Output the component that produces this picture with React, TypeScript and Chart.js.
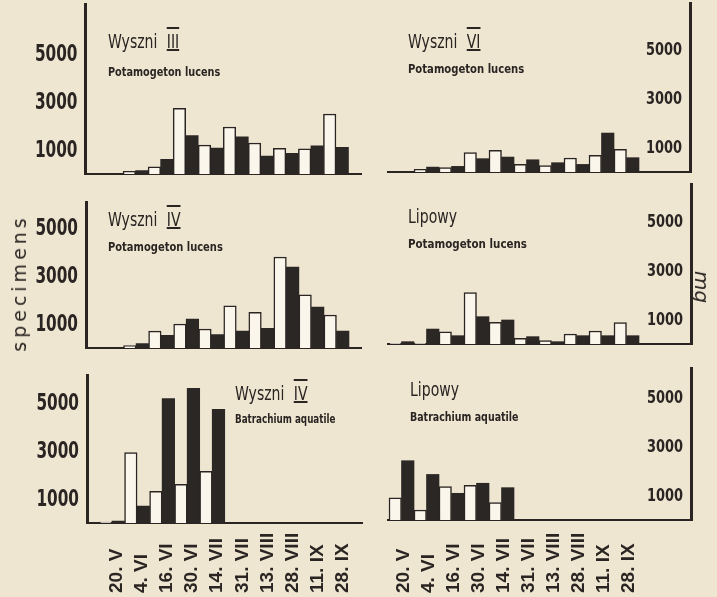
import React, { useEffect, useRef } from "react";
import { Chart, registerables } from "chart.js";

Chart.register(...registerables);

const W = 717;
const H = 597;

// ---------- data ----------
const dates = ["20. V", "4. VI", "16. VI", "30. VI", "14. VII", "31. VII", "13. VIII", "28. VIII", "11. IX", "28. IX"];
const yTicks = [1000, 3000, 5000];

// Wyszni III – Potamogeton lucens
const wyszni3White = [0, 110, 300, 2740, 1200, 1960, 1290, 1070, 1050, 2500];
const wyszni3Black = [0, 140, 610, 1600, 1080, 1550, 750, 860, 1170, 1110];

// Wyszni VI – Potamogeton lucens
const wyszni6White = [0, 110, 180, 790, 885, 310, 260, 570, 680, 925];
const wyszni6Black = [0, 200, 230, 545, 610, 500, 380, 310, 1590, 585];

// Wyszni IV – Potamogeton lucens
const wyszni4PotWhite = [0, 100, 700, 1000, 790, 1760, 1490, 3790, 2220, 1375];
const wyszni4PotBlack = [0, 180, 530, 1210, 555, 700, 820, 3375, 1710, 700];

// Lipowy – Potamogeton lucens
const lipowyPotWhite = [30, 30, 500, 2100, 885, 230, 135, 410, 530, 870];
const lipowyPotBlack = [95, 610, 340, 1115, 980, 300, 95, 340, 340, 340];

// Wyszni IV – Batrachium aquatile
const wyszni4BatWhite = [40, 2930, 1320, 1610, 2150, 0, 0, 0, 0, 0];
const wyszni4BatBlack = [80, 700, 5180, 5610, 4740, 0, 0, 0, 0, 0];

// Lipowy – Batrachium aquatile
const lipowyBatWhite = [910, 410, 1360, 1415, 710, 0, 0, 0, 0, 0];
const lipowyBatBlack = [2420, 1860, 1090, 1500, 1320, 0, 0, 0, 0, 0];

// ---------- styles ----------
const PAPER = "#EFE6D2";
const BAR_WHITE = "#FAF6EC";
const BAR_BLACK = "#2b2725";
const INK = "#2a2522";
const NARROW = "'Liberation Sans Narrow','DejaVu Sans Condensed',sans-serif";

type Panel = {
  white: number[];
  black: number[];
  left: number;
  right: number;
  top: number;
  bottom: number;
  xMin: number;
  xMax: number;
  pxPerK: number;
  side: "left" | "right";
  tickFont: number;
  tickScale: number;
  showX: boolean;
  labelDx: number;
};

const panels: Panel[] = [
  { white: wyszni3White, black: wyszni3Black, left: 85.5, right: 361, top: 4, bottom: 174, xMin: -1, xMax: 10, pxPerK: 24, side: "left", tickFont: 23, tickScale: 0.74, showX: false, labelDx: 5 },
  { white: wyszni6White, black: wyszni6Black, left: 388, right: 690, top: 3, bottom: 172, xMin: -0.54, xMax: 11.54, pxPerK: 24.5, side: "right", tickFont: 18, tickScale: 0.8, showX: false, labelDx: 2 },
  { white: wyszni4PotWhite, black: wyszni4PotBlack, left: 86, right: 361.5, top: 202, bottom: 348, xMin: -1, xMax: 10, pxPerK: 24, side: "left", tickFont: 23, tickScale: 0.74, showX: false, labelDx: 5 },
  { white: lipowyPotWhite, black: lipowyPotBlack, left: 388, right: 691, top: 184, bottom: 344, xMin: -0.54, xMax: 11.58, pxPerK: 24.5, side: "right", tickFont: 18, tickScale: 0.8, showX: false, labelDx: 2 },
  { white: wyszni4BatWhite, black: wyszni4BatBlack, left: 87, right: 362.5, top: 375, bottom: 523, xMin: -1, xMax: 10, pxPerK: 24, side: "left", tickFont: 23, tickScale: 0.74, showX: true, labelDx: 5 },
  { white: lipowyBatWhite, black: lipowyBatBlack, left: 388, right: 691, top: 368, bottom: 520, xMin: -0.54, xMax: 11.58, pxPerK: 24.5, side: "right", tickFont: 18, tickScale: 0.8, showX: true, labelDx: 2 },
];

function makeLabelPlugin(p: Panel) {
  return {
    id: "panelLabels",
    afterDraw(chart: any) {
      const { ctx, chartArea, scales } = chart;
      const ys = scales.y;
      const xs = scales.x;
      ctx.save();
      ctx.fillStyle = INK;
      ctx.font = `bold ${p.tickFont}px ${NARROW}`;
      ctx.textAlign = "right";
      ctx.textBaseline = "middle";
      const ax = p.side === "left" ? chartArea.left : chartArea.right;
      ys.ticks.forEach((t: any) => {
        ctx.save();
        ctx.translate(ax - 8, ys.getPixelForValue(t.value) + 1);
        ctx.scale(p.tickScale, 1);
        ctx.fillText(String(t.value), 0, 0);
        ctx.restore();
      });
      if (p.showX) {
        ctx.font = "bold 19px 'Liberation Sans', Arial, sans-serif";
        ctx.textAlign = "left";
        ctx.textBaseline = "middle";
        xs.ticks.forEach((t: any) => {
          const px = xs.getPixelForValue(t.value);
          ctx.save();
          ctx.translate(px + p.labelDx, 593);
          ctx.rotate(-Math.PI / 2);
          ctx.fillText(dates[t.value], 0, 0);
          ctx.restore();
        });
      }
      ctx.restore();
    },
  };
}

function PanelChart({ p }: { p: Panel }) {
  const ref = useRef<HTMLCanvasElement | null>(null);
  useEffect(() => {
    if (!ref.current) return;
    const yMax = ((p.bottom - p.top) / p.pxPerK) * 1000;
    const chart = new Chart(ref.current, {
      type: "bar",
      data: {
        datasets: [
          {
            data: p.white.map((v, i) => ({ x: i, y: v })),
            backgroundColor: BAR_WHITE,
            borderColor: INK,
            borderWidth: 1.5,
          },
          {
            data: p.black.map((v, i) => ({ x: i, y: v })),
            backgroundColor: BAR_BLACK,
            borderColor: BAR_BLACK,
            borderWidth: 0,
          },
        ],
      } as any,
      options: {
        responsive: false,
        animation: false,
        devicePixelRatio: 1,
        layout: { padding: { left: p.left, right: W - p.right, top: p.top, bottom: H - p.bottom } },
        plugins: { legend: { display: false }, tooltip: { enabled: false }, title: { display: false } },
        datasets: { bar: { categoryPercentage: 1, barPercentage: 1 } },
        scales: {
          x: {
            type: "linear",
            min: p.xMin,
            max: p.xMax,
            offset: false,
            grid: { display: false, drawTicks: false, tickLength: 0 },
            ticks: { display: false, includeBounds: false, padding: 0 },
            border: { display: true, color: INK, width: 2 },
            afterBuildTicks: (s: any) => {
              s.ticks = dates.map((_, i) => ({ value: i }));
            },
          },
          y: {
            type: "linear",
            position: p.side,
            min: 0,
            max: yMax,
            grid: { display: false, drawTicks: false, tickLength: 0 },
            ticks: { display: false, padding: 0 },
            border: { display: true, color: INK, width: 3 },
            afterBuildTicks: (s: any) => {
              s.ticks = yTicks.map((v) => ({ value: v }));
            },
          },
        },
      } as any,
      plugins: [makeLabelPlugin(p)],
    });
    return () => chart.destroy();
  }, [p]);
  return (
    <canvas
      ref={ref}
      width={W}
      height={H}
      style={{ position: "absolute", left: 0, top: 0, width: W, height: H }}
    />
  );
}

const titleFont = `20px ${NARROW}`;
const subFont = `bold 13px ${NARROW}`;

function Title({ x, y, name, num }: { x: number; y: number; name: string; num?: string }) {
  return (
    <div
      style={{
        position: "absolute",
        left: x,
        top: y,
        font: titleFont,
        lineHeight: 1,
        color: INK,
        whiteSpace: "nowrap",
        transform: "scaleX(0.78)",
        transformOrigin: "0 0",
      }}
    >
      {name}
      {num ? (
        <span style={{ marginLeft: 12, textDecoration: "underline overline", textDecorationThickness: "1.5px" }}>{num}</span>
      ) : null}
    </div>
  );
}

function Sub({ x, y, text, sx }: { x: number; y: number; text: string; sx: number }) {
  return (
    <div
      style={{
        position: "absolute",
        left: x,
        top: y,
        font: subFont,
        lineHeight: 1,
        color: INK,
        whiteSpace: "nowrap",
        transform: `scaleX(${sx})`,
        transformOrigin: "0 0",
      }}
    >
      {text}
    </div>
  );
}

export default function App() {
  return (
    <div style={{ position: "absolute", left: 0, top: 0, width: W, height: H, background: PAPER, overflow: "hidden" }}>
      {panels.map((p, i) => (
        <PanelChart key={i} p={p} />
      ))}
      <Title x={108} y={31} name="Wyszni" num="III" />
      <Sub x={108} y={65} text="Potamogeton lucens" sx={0.83} />
      <Title x={408} y={31} name="Wyszni" num="VI" />
      <Sub x={408} y={62} text="Potamogeton lucens" sx={0.86} />
      <Title x={108} y={209} name="Wyszni" num="IV" />
      <Sub x={108} y={240} text="Potamogeton lucens" sx={0.85} />
      <Title x={408} y={206} name="Lipowy" />
      <Sub x={408} y={237} text="Potamogeton lucens" sx={0.88} />
      <Title x={235} y={383} name="Wyszni" num="IV" />
      <Sub x={235} y={412} text="Batrachium aquatile" sx={0.75} />
      <Title x={410} y={379} name="Lipowy" />
      <Sub x={410} y={410} text="Batrachium aquatile" sx={0.81} />
      <div
        style={{
          position: "absolute",
          left: 18.5,
          top: 283,
          transform: "translate(-50%, -50%) rotate(-90deg)",
          font: "19px 'DejaVu Sans', sans-serif",
          letterSpacing: 4,
          color: INK,
          whiteSpace: "nowrap",
        }}
      >
        specimens
      </div>
      <div
        style={{
          position: "absolute",
          left: 702,
          top: 287,
          transform: "translate(-50%, -50%) rotate(90deg)",
          font: "italic 20px 'DejaVu Sans', sans-serif",
          color: INK,
          whiteSpace: "nowrap",
        }}
      >
        mg
      </div>
    </div>
  );
}
